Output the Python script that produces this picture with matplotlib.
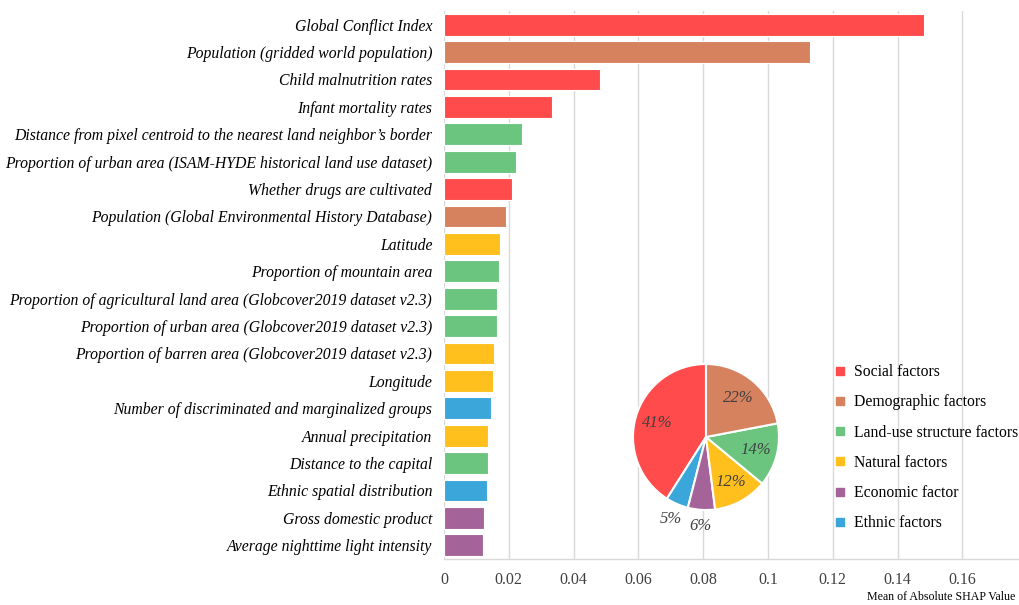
import numpy as np
import matplotlib.pyplot as plt
from matplotlib.lines import Line2D

features = [
    "Global Conflict Index",
    "Population (gridded world population)",
    "Child malnutrition rates",
    "Infant mortality rates",
    "Distance from pixel centroid to the nearest land neighbor\u2019s border",
    "Proportion of urban area (ISAM-HYDE historical land use dataset)",
    "Whether drugs are cultivated",
    "Population (Global Environmental History Database)",
    "Latitude",
    "Proportion of mountain area",
    "Proportion of agricultural land area (Globcover2019 dataset v2.3)",
    "Proportion of urban area (Globcover2019 dataset v2.3)",
    "Proportion of barren area (Globcover2019 dataset v2.3)",
    "Longitude",
    "Number of discriminated and marginalized groups",
    "Annual precipitation",
    "Distance to the capital",
    "Ethnic spatial distribution",
    "Gross domestic product",
    "Average nighttime light intensity",
]
shap_values = [0.148, 0.113, 0.0483, 0.0333, 0.0240, 0.0221, 0.0211, 0.0191,
               0.0172, 0.0169, 0.0163, 0.0163, 0.0155, 0.0152, 0.0146,
               0.0136, 0.0136, 0.0133, 0.0124, 0.0121]
feature_group = ["Social", "Demographic", "Social", "Social", "Land", "Land",
                 "Social", "Demographic", "Natural", "Land", "Land", "Land",
                 "Natural", "Natural", "Ethnic", "Natural", "Land", "Ethnic",
                 "Economic", "Economic"]

groups = ["Social", "Demographic", "Land", "Natural", "Economic", "Ethnic"]
group_labels = ["Social factors", "Demographic factors", "Land-use structure factors",
                "Natural factors", "Economic factor", "Ethnic factors"]
group_share = [41, 22, 14, 12, 6, 5]
# counterclockwise from the top: social first, demographic last
pie_order = ["Social", "Ethnic", "Economic", "Natural", "Land", "Demographic"]

colors = {
    "Social": "#ff4b4b",
    "Demographic": "#d6825f",
    "Land": "#6cc57e",
    "Natural": "#ffc01e",
    "Economic": "#a4649a",
    "Ethnic": "#3aa6da",
}

serif = "Liberation Serif"

fig = plt.figure(figsize=(10.19, 6.05), dpi=100)
ax = fig.add_axes([444 / 1019, 46 / 605, 575 / 1019, 548 / 605])

y = list(range(len(features)))
ax.barh(y, shap_values, height=0.8, color=[colors[g] for g in feature_group],
        edgecolor="white", linewidth=0.8, zorder=2)
ax.set_ylim(len(features) - 0.5, -0.5)
ax.set_yticks(y)
ax.set_yticklabels(features, fontstyle="italic", family=serif, fontsize=11.3)
ax.set_xlim(0, 575 / 3240)
ax.set_xticks([0, 0.02, 0.04, 0.06, 0.08, 0.1, 0.12, 0.14, 0.16])
ax.set_xticklabels(["0", "0.02", "0.04", "0.06", "0.08", "0.1", "0.12", "0.14", "0.16"],
                   family=serif, fontsize=11.5, color="#404040")
ax.tick_params(axis="x", length=0, pad=9)
ax.tick_params(axis="y", length=0, pad=8.5)
ax.grid(axis="x", color="#d9d9d9", linewidth=1, zorder=0)
for s in ["top", "right", "left"]:
    ax.spines[s].set_visible(False)
ax.spines["bottom"].set_color("#d9d9d9")
ax.spines["bottom"].set_linewidth(1)

fig.text(1015 / 1019, 8 / 605, "Mean of Absolute SHAP Value", ha="right", va="center",
         family=serif, fontsize=8.6)

# pie inset
pax = fig.add_axes([(706 - 73) / 1019, (605 - 437 - 73) / 605, 146 / 1019, 146 / 605])
shares = [group_share[groups.index(g)] for g in pie_order]
wedges, texts, autotexts = pax.pie(
    shares, colors=[colors[g] for g in pie_order], startangle=90,
    counterclock=True, autopct="%d%%", pctdistance=0.7,
    wedgeprops=dict(edgecolor="white", linewidth=1.5))
pax.set_xlim(-1, 1)
pax.set_ylim(-1, 1)
pax.set_aspect("equal")
for w, t, s in zip(wedges, autotexts, shares):
    t.set_family(serif)
    t.set_fontstyle("italic")
    t.set_fontsize(12)
    t.set_color("#404040")
    if s < 8:
        ang = np.deg2rad((w.theta1 + w.theta2) / 2)
        t.set_position((1.22 * np.cos(ang), 1.22 * np.sin(ang)))

handles = [Line2D([], [], marker="s", linestyle="", markersize=6,
                  color=colors[g]) for g in groups]
fig.legend(handles, group_labels, loc="upper left", bbox_to_anchor=(834 / 1019, 1 - 364 / 605),
           frameon=False, prop={"family": serif, "size": 11.3}, handlelength=0.8,
           handletextpad=0.5, labelspacing=0.91, borderaxespad=0, borderpad=0)

fig.savefig("out.png", dpi=100)
